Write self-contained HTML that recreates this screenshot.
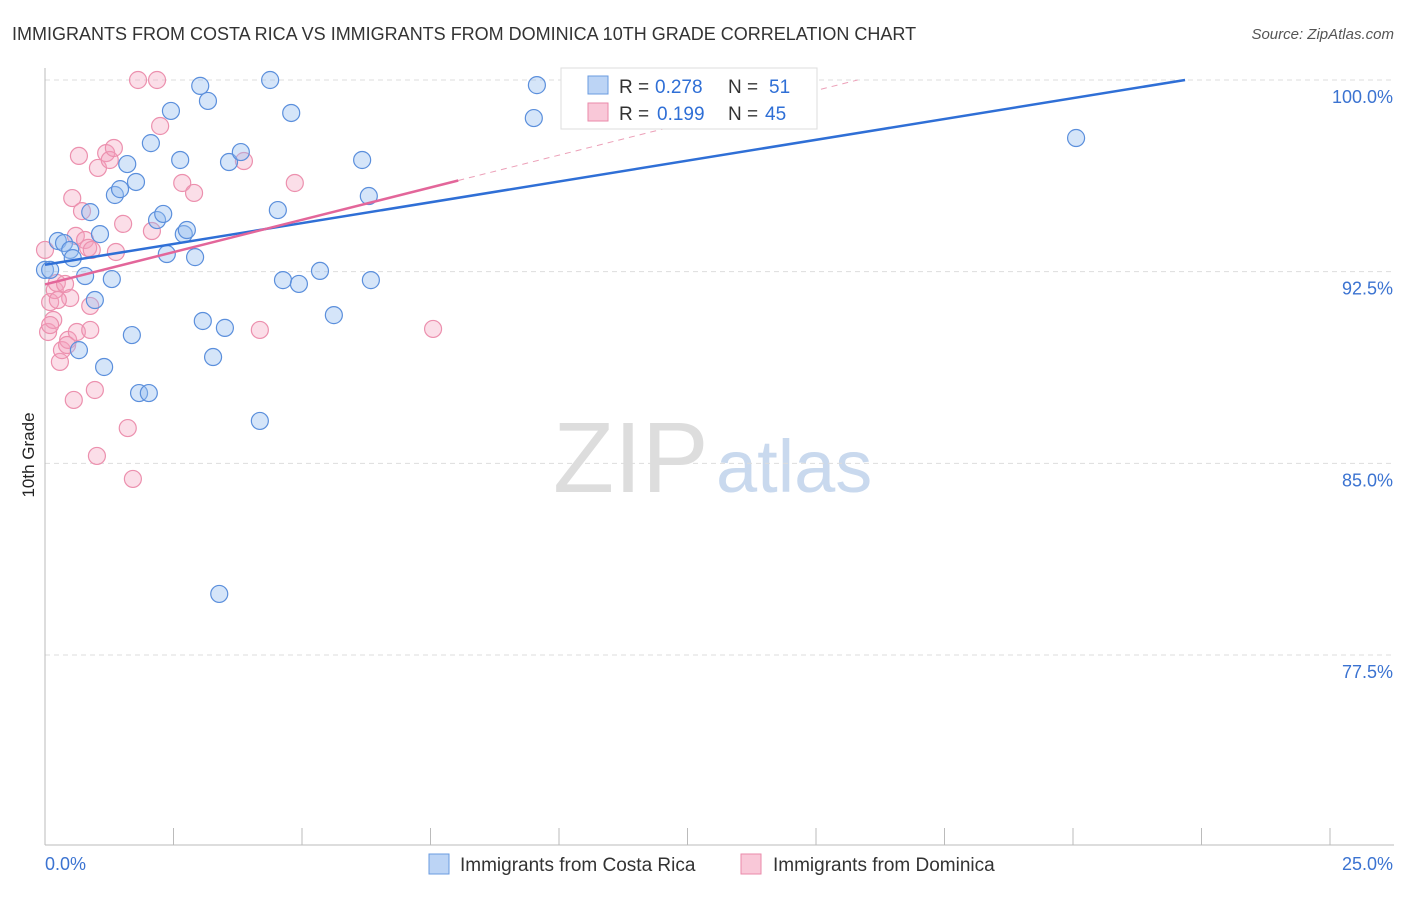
<!DOCTYPE html>
<html><head><meta charset="utf-8"><style>
body{margin:0;background:#fff;font-family:"Liberation Sans",sans-serif}
svg text{font-family:"Liberation Sans",sans-serif}
</style></head><body>
<svg width="1406" height="892" id="chart">
<text x="12" y="40" font-size="18" fill="#333">IMMIGRANTS FROM COSTA RICA VS IMMIGRANTS FROM DOMINICA 10TH GRADE CORRELATION CHART</text>
<text x="1394" y="39" font-size="15" fill="#555" font-style="italic" text-anchor="end">Source: ZipAtlas.com</text>
<text transform="translate(34,455) rotate(-90)" font-size="17" fill="#222" text-anchor="middle">10th Grade</text>
<text x="553" y="492" font-size="100" fill="#ddd" font-family="Liberation Serif">ZIP</text>
<text x="716" y="492" font-size="74" fill="#c9d9ee">atlas</text>
<g id="grid"></g><g id="axes"></g><g id="pts"></g><g id="lines"></g>
<g>
<rect x="561" y="68" width="256" height="61" fill="#fff" stroke="#ddd"/>
<rect x="588" y="76" width="20" height="18" fill="#bcd4f5" stroke="#6a9be0"/>
<text x="619" y="93" font-size="19" fill="#333">R =</text>
<text x="655" y="93" font-size="19" fill="#2f6fd6">0.278</text>
<text x="728" y="93" font-size="19" fill="#333">N =</text>
<text x="769" y="93" font-size="19" fill="#2f6fd6">51</text>
<rect x="588" y="103" width="20" height="18" fill="#f9c8d8" stroke="#ea8aaa"/>
<text x="619" y="120" font-size="19" fill="#333">R =</text>
<text x="657" y="120" font-size="19" fill="#2f6fd6">0.199</text>
<text x="728" y="120" font-size="19" fill="#333">N =</text>
<text x="765" y="120" font-size="19" fill="#2f6fd6">45</text>
</g>
<g>
<rect x="429" y="854" width="20" height="20" fill="#bcd4f5" stroke="#6a9be0"/>
<text x="460" y="871" font-size="19" fill="#333">Immigrants from Costa Rica</text>
<rect x="741" y="854" width="20" height="20" fill="#f9c8d8" stroke="#ea8aaa"/>
<text x="773" y="871" font-size="19" fill="#333">Immigrants from Dominica</text>
</g>
</svg>
<script>
const blueX=[0,0.10,0.25,0.37,0.49,0.54,0.78,0.88,0.97,1.07,0.66,1.15,1.30,1.36,1.46,1.60,1.77,1.69,1.83,2.02,2.06,2.18,2.30,2.37,2.45,2.63,2.70,2.76,2.92,3.02,3.07,3.17,3.27,3.50,3.58,3.81,4.18,3.39,4.38,4.53,4.63,4.79,4.94,5.35,5.62,6.17,6.30,6.34,9.51,9.57,20.06];
const blueY=[92.57,92.57,93.70,93.62,93.35,93.03,92.33,94.83,91.39,93.97,89.43,88.77,92.21,95.50,95.73,96.71,96.01,90.02,87.75,87.75,97.53,94.52,94.76,93.19,98.79,96.87,93.97,94.13,93.07,99.77,90.57,99.18,89.16,90.30,96.79,97.18,86.66,79.89,100,94.91,92.17,98.71,92.02,92.53,90.80,96.87,95.46,92.17,98.51,99.80,97.73];
const pinkX=[0,0.06,0.10,0.16,0.19,0.23,0.29,0.33,0.39,0.45,0.49,0.53,0.56,0.60,0.62,0.66,0.72,0.78,0.84,0.88,0.91,0.97,1.01,1.03,1.19,1.26,1.34,1.38,1.52,1.61,1.71,1.81,2.08,2.18,2.24,2.67,2.90,3.87,4.18,4.86,7.55,0.88,0.43,0.25,0.10];
const pinkY=[93.35,90.14,91.31,90.61,91.78,92.06,88.97,89.43,92.02,89.83,91.47,95.38,87.48,93.90,90.14,97.03,94.87,93.74,93.43,91.16,93.35,87.87,85.29,96.56,97.14,96.87,97.34,93.27,94.37,86.38,84.39,100,94.09,100,98.20,95.97,95.58,96.83,90.22,95.97,90.26,90.22,89.63,91.39,90.41];
const yTicks=[100,92.5,85,77.5];
const yTickLabels=["100.0%","92.5%","85.0%","77.5%"];
const xEnds=["0.0%","25.0%"];
const blueLine=[92.77,100,22.18];
const pinkLine=[92.0,0.506,8.04];
const X=v=>45+v/25*1285, Y=v=>80+(100-v)/7.5*191.67;
const NS="http://www.w3.org/2000/svg";
function mk(t,a,p){const e=document.createElementNS(NS,t);for(const k in a)e.setAttribute(k,a[k]);p.appendChild(e);return e;}
const g=document.getElementById('grid'),ax=document.getElementById('axes'),pts=document.getElementById('pts'),ln=document.getElementById('lines');
yTicks.forEach((t,i)=>{
 const l=mk('line',{x1:45,x2:1394,y1:Y(t),y2:Y(t),stroke:'#ddd','stroke-dasharray':'5,4'},g);
 
 
 const tx=mk('text',{x:1393,y:Y(t)+23,'font-size':18,fill:'#3b73d1','text-anchor':'end'},ax);tx.textContent=yTickLabels[i];
 
 
});
const ya=mk('line',{x1:45,x2:45,y1:68,y2:845,stroke:'#bbb'},ax);


const xa=mk('line',{x1:45,x2:1394,y1:845,y2:845,stroke:'#bbb'},ax);


for(let i=0;i<=10;i++){const t=mk('line',{x1:X(i*2.5),x2:X(i*2.5),y1:828,y2:845,stroke:'#bbb'},ax);
 
 }
const t0=mk('text',{x:45,y:870,'font-size':18,fill:'#3b73d1'},ax);t0.textContent=xEnds[0];


const t1=mk('text',{x:1393,y:870,'font-size':18,fill:'#3b73d1','text-anchor':'end'},ax);t1.textContent=xEnds[1];


pinkX.forEach((x,i)=>{const c=mk('circle',{cx:X(x),cy:Y(pinkY[i]),r:8.5,fill:'rgba(244,160,188,0.35)',stroke:'#ec90ae','stroke-width':1.2},pts);
 
 });
blueX.forEach((x,i)=>{const c=mk('circle',{cx:X(x),cy:Y(blueY[i]),r:8.5,fill:'rgba(150,190,240,0.4)',stroke:'#5b8fdc','stroke-width':1.2},pts);
 
 });
const bl=mk('line',{x1:X(0),y1:Y(blueLine[0]),x2:X(blueLine[2]),y2:Y(blueLine[1]),stroke:'#2f6fd6','stroke-width':2.5},ln);


const pe=(100-pinkLine[0])/pinkLine[1];
const pd=mk('line',{x1:X(pinkLine[2]),y1:Y(pinkLine[0]+pinkLine[1]*pinkLine[2]),x2:X(pe),y2:Y(100),stroke:'#eca0b8','stroke-width':1,'stroke-dasharray':'6,5'},ln);


const pl=mk('line',{x1:X(0),y1:Y(pinkLine[0]),x2:X(pinkLine[2]),y2:Y(pinkLine[0]+pinkLine[1]*pinkLine[2]),stroke:'#e3669a','stroke-width':2.5},ln);


</script>
</body></html>
